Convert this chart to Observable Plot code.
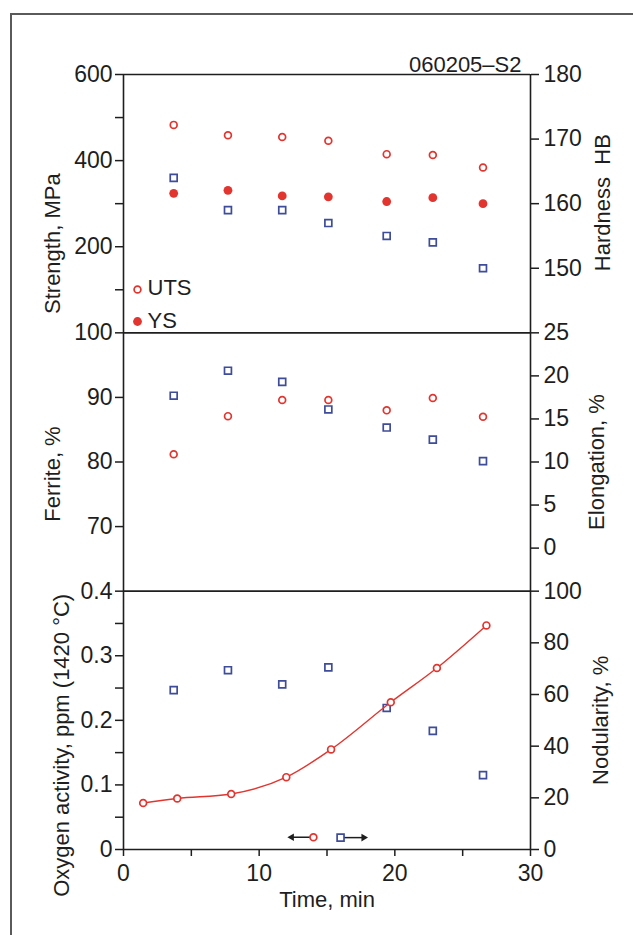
<!DOCTYPE html>
<html>
<head>
<meta charset="utf-8">
<script src="https://cdn.jsdelivr.net/npm/d3@7"></script>
<script src="https://cdn.jsdelivr.net/npm/@observablehq/plot@0.6"></script>
<style>
  html, body { margin: 0; padding: 0; background: #fff; }
  #figure { position: relative; width: 633px; height: 935px; overflow: hidden; }
  #figure svg { position: absolute; left: 0; top: 0; }
  #border { position: absolute; left: 10px; top: 13px; right: -10px; bottom: -10px;
            border-left: 2px solid #5a5a5a; border-top: 2px solid #5a5a5a; }
</style>
</head>
<body>
<div id="figure"><div id="border"></div></div>
<script>
// Heat 060205-S2: properties of samples taken over holding time

// Mechanical / structural samples (time, min)
const sampleTime = [3.7, 7.7, 11.7, 15.1, 19.4, 22.8, 26.5];
const uts        = [483, 459, 455, 446, 415, 413, 384];      // MPa
const ys         = [324, 331, 318, 316, 305, 314, 300];      // MPa
const hardness   = [164, 159, 159, 157, 155, 154, 150];      // HB
const ferrite    = [81.2, 87.1, 89.6, 89.6, 88.0, 89.9, 87.0]; // %
const elongation = [17.7, 20.6, 19.3, 16.1, 14.0, 12.6, 10.1]; // %
const nodularity = [61.7, 69.4, 63.9, 70.5, 54.8, 45.9, 28.8]; // %

// Oxygen activity measurements
const oxygenTime = [1.45, 3.96, 7.94, 12.0, 15.3, 19.7, 23.1, 26.75];
const oxygen     = [0.072, 0.079, 0.086, 0.112, 0.155, 0.228, 0.281, 0.347]; // ppm at 1420 °C

// Key symbols with arrows pointing to their axis
const keySeries = ["oxygen", "nodularity"];
const keyTime   = [14.0, 16.0];
const keyValue  = [0.019, 4.6];
const keyToward = [12.4, 17.7];

// Tick values
const strengthTicks   = [100, 200, 300, 400, 500, 600];
const hardnessTicks   = [150, 160, 170, 180];
const ferriteTicks    = [70, 80, 90, 100];
const elongationTicks = [0, 5, 10, 15, 20, 25];
const oxygenTicks     = [0, 0.05, 0.1, 0.15, 0.2, 0.25, 0.3, 0.35, 0.4];
const nodularityTicks = [0, 20, 40, 60, 80, 100];
const timeTicks       = [0, 5, 10, 15, 20, 25, 30];

const legendLabels = ["UTS", "YS"];
const sampleId = "060205\u2013S2";

// Each panel occupies one unit of the shared y scale (bottom 0–1, middle 1–2, top 2–3)
const panels = {
  strength:   {lo: 0,   hi: 600, base: 2},
  hardness:   {lo: 140, hi: 180, base: 2},
  ferrite:    {lo: 60,  hi: 100, base: 1},
  elongation: {lo: -5,  hi: 25,  base: 1},
  oxygen:     {lo: 0,   hi: 0.4, base: 0},
  nodularity: {lo: 0,   hi: 100, base: 0}
};
const pos = (key, v) => panels[key].base + (v - panels[key].lo) / (panels[key].hi - panels[key].lo);

const mech = sampleTime.map((t, i) => ({
  t, uts: uts[i], ys: ys[i], hb: hardness[i], fe: ferrite[i], el: elongation[i], nod: nodularity[i]
}));
const oxy = oxygenTime.map((t, i) => ({t, o: oxygen[i]}));
const keys = keySeries.map((s, i) => ({series: s, t: keyTime[i], value: keyValue[i], toward: keyToward[i]}));

// Build tick positions and labels for the stacked dual axes
function tickSet(entries) {
  const labels = new Map();
  for (const [key, values, fmt] of entries) {
    for (const v of values) labels.set(pos(key, v), fmt(v));
  }
  return labels;
}
const leftLabels = tickSet([
  ["strength", strengthTicks, v => v % 200 === 0 ? String(v) : ""],
  ["ferrite", ferriteTicks, v => String(v)],
  ["oxygen", oxygenTicks, v => Math.round(v * 100) % 10 === 0 ? (v === 0 ? "0" : v.toFixed(1)) : ""]
]);
const rightLabels = tickSet([
  ["hardness", hardnessTicks, v => String(v)],
  ["elongation", elongationTicks, v => String(v)],
  ["nodularity", nodularityTicks, v => String(v)]
]);

const red = "#e2352f";
const blue = "#3e4c9a";
const ink = "#1e1e1e";

// rotated axis title placed beside the frame
const title = (text, side, y, dx, dy) => Plot.text([text], {
  frameAnchor: side, y: () => y, dx, dy, rotate: -90,
  textAnchor: "middle", lineAnchor: "middle", fontSize: 22, fill: ink
});

const chart = Plot.plot({
  width: 633,
  height: 935,
  marginLeft: 123,
  marginRight: 103,
  marginTop: 74,
  marginBottom: 86,
  style: {fontFamily: "'Liberation Sans', Arial, Helvetica, sans-serif", fontSize: "23px", color: ink, background: "transparent"},
  x: {domain: [0, 30]},
  y: {domain: [0, 3]},
  marks: [
    // panel frames
    Plot.ruleY([0, 1, 2, 3], {stroke: ink, strokeWidth: 1.6}),
    Plot.ruleX([0, 30], {stroke: ink, strokeWidth: 1.6}),

    // axes
    Plot.axisY({anchor: "left", ticks: [...leftLabels.keys()], tickFormat: v => leftLabels.get(v),
                tickSize: 8, tickPadding: 3, label: null, strokeWidth: 1.5}),
    Plot.axisY({anchor: "right", ticks: [...rightLabels.keys()], tickFormat: v => rightLabels.get(v),
                tickSize: 8, tickPadding: 5, label: null, strokeWidth: 1.5}),
    Plot.axisX({anchor: "bottom", ticks: timeTicks, tickFormat: v => v % 10 === 0 ? String(v) : "",
                tickSize: 7, tickPadding: 8, label: null, strokeWidth: 1.5}),

    // axis titles
    title("Strength, MPa", "left", pos("strength", 300), -71, 40),
    title("Ferrite, %", "left", pos("ferrite", 80), -71, 12),
    title("Oxygen activity, ppm (1420 \u00b0C)", "left", pos("oxygen", 0.2), -62, 25),
    title("Hardness\u00a0\u00a0HB", "right", pos("hardness", 160), 72, -1),
    title("Elongation, %", "right", pos("elongation", 10), 66, 0),
    title("Nodularity, %", "right", pos("nodularity", 50), 70, 0),
    Plot.text(["Time, min"], {frameAnchor: "bottom", dy: 57, lineAnchor: "bottom", fontSize: 22, fill: ink}),
    Plot.text([sampleId], {frameAnchor: "top-right", dx: -9, dy: -3, textAnchor: "end", lineAnchor: "bottom",
                           fontSize: 22, fill: ink}),

    // top panel: strength (left) and hardness (right)
    Plot.dot(mech, {x: "t", y: d => pos("hardness", d.hb), symbol: "square", r: 3.9,
                    stroke: blue, strokeWidth: 1.7, fill: "white"}),
    Plot.dot(mech, {x: "t", y: d => pos("strength", d.ys), r: 4.4, fill: red}),
    Plot.dot(mech, {x: "t", y: d => pos("strength", d.uts), r: 3.4, stroke: red, strokeWidth: 1.7, fill: "white"}),

    // legend for strength symbols
    Plot.dot([legendLabels[0]], {frameAnchor: "top-left", dx: 14, dy: 215, r: 3.4, stroke: red, strokeWidth: 1.7, fill: "white"}),
    Plot.dot([legendLabels[1]], {frameAnchor: "top-left", dx: 14, dy: 247, r: 4.4, fill: red}),
    Plot.text([legendLabels[0]], {frameAnchor: "top-left", dx: 24, dy: 213, textAnchor: "start", lineAnchor: "middle",
                                  fontSize: 22, fill: ink}),
    Plot.text([legendLabels[1]], {frameAnchor: "top-left", dx: 24, dy: 246, textAnchor: "start", lineAnchor: "middle",
                                  fontSize: 22, fill: ink}),

    // middle panel: ferrite (left) and elongation (right)
    Plot.dot(mech, {x: "t", y: d => pos("elongation", d.el), symbol: "square", r: 3.9,
                    stroke: blue, strokeWidth: 1.7, fill: "white"}),
    Plot.dot(mech, {x: "t", y: d => pos("ferrite", d.fe), r: 3.4, stroke: red, strokeWidth: 1.7, fill: "white"}),

    // bottom panel: nodularity (right) and oxygen activity (left)
    Plot.dot(mech, {x: "t", y: d => pos("nodularity", d.nod), symbol: "square", r: 3.9,
                    stroke: blue, strokeWidth: 1.7, fill: "white"}),
    Plot.line(oxy, {x: "t", y: d => pos("oxygen", d.o), stroke: red, strokeWidth: 1.4, curve: "monotone-x"}),
    Plot.dot(oxy, {x: "t", y: d => pos("oxygen", d.o), r: 3.4, stroke: red, strokeWidth: 1.7, fill: "white"}),

    // key symbols with arrows toward their axes
    Plot.link(keys, {x1: "t", x2: "toward", y1: d => pos(d.series, d.value), y2: d => pos(d.series, d.value),
                     stroke: ink, strokeWidth: 1.5}),
    Plot.dot(keys, {x: "toward", y: d => pos(d.series, d.value), symbol: "triangle", r: 2.8, fill: ink,
                    rotate: d => d.toward < d.t ? -90 : 90}),
    Plot.dot(keys.filter(d => d.series === "oxygen"), {x: "t", y: d => pos(d.series, d.value), r: 3.4,
                    stroke: red, strokeWidth: 1.7, fill: "white"}),
    Plot.dot(keys.filter(d => d.series === "nodularity"), {x: "t", y: d => pos(d.series, d.value), symbol: "square", r: 3.9,
                    stroke: blue, strokeWidth: 1.7, fill: "white"})
  ]
});

document.getElementById("figure").appendChild(chart);
</script>
</body>
</html>
